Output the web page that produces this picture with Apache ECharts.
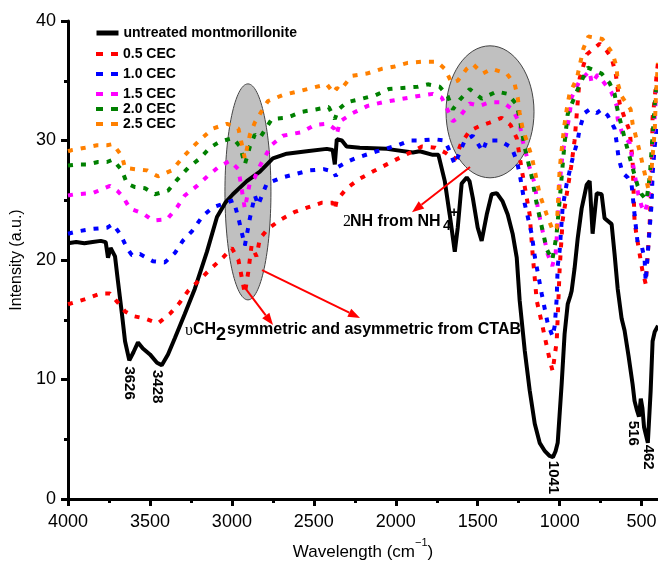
<!DOCTYPE html>
<html>
<head>
<meta charset="utf-8">
<script src="https://cdn.jsdelivr.net/npm/echarts@6/dist/echarts.min.js"></script>
<style>
  html, body { margin: 0; padding: 0; background: #fff; }
  #chart { width: 658px; height: 563px; }
</style>
</head>
<body>
<div id="chart"></div>
<script>
// tick values on the wavenumber axis
const majorTicks = [4000, 3500, 3000, 2500, 2000, 1500, 1000, 500];
const minorTicks = [3750, 3250, 2750, 2250, 1750, 1250, 750];

const seriesNames = ['untreated montmorillonite', '0.5 CEC', '1.0 CEC', '1.5 CEC', '2.0 CEC', '2.5 CEC'];

// [wavenumber, intensity]
const untreated = [[4000,21.4],[3950,21.5],[3900,21.4],[3850,21.5],[3800,21.6],[3770,21.5],[3756,20.2],[3740,21.0],[3713,20.3],[3695,18.2],[3671,15.5],[3652,13.2],[3626,11.6],[3600,12.3],[3573,13.1],[3543,12.6],[3500,12.1],[3457,11.4],[3428,11.2],[3390,12.1],[3347,13.5],[3287,15.5],[3226,17.6],[3152,20.7],[3091,23.6],[3040,24.8],[2994,25.5],[2909,26.6],[2829,27.4],[2750,28.5],[2665,28.9],[2543,29.1],[2421,29.3],[2385,29.2],[2372,28.0],[2360,30.1],[2329,30.0],[2300,29.5],[2220,29.4],[2055,29.3],[1896,29.0],[1854,29.1],[1774,28.8],[1740,28.8],[1701,26.6],[1671,23.8],[1640,20.7],[1622,22.7],[1598,26.4],[1567,26.9],[1550,26.6],[1530,25.2],[1500,22.7],[1476,21.6],[1445,23.8],[1415,25.5],[1384,25.6],[1348,24.9],[1317,23.8],[1287,22.2],[1262,20.2],[1244,16.6],[1213,12.4],[1183,9.1],[1152,6.3],[1122,4.7],[1090,4.0],[1061,3.6],[1041,3.5],[1025,4.0],[1012,4.7],[988,9.6],[970,13.8],[951,16.3],[935,17.0],[927,17.4],[909,19.3],[890,21.8],[866,24.3],[835,26.3],[817,26.6],[799,22.2],[774,25.6],[744,25.5],[726,23.5],[683,23.0],[665,20.5],[646,17.6],[622,15.1],[604,14.1],[580,12.0],[555,9.6],[543,8.2],[530,7.5],[516,6.9],[505,8.4],[495,7.6],[485,6.0],[462,4.7],[445,9.0],[433,13.2],[420,14.0],[408,14.3],[400,14.5]];

const cec05 = [[4000,16.3],[3900,16.7],[3800,17.2],[3744,17.2],[3700,16.5],[3652,15.7],[3600,15.3],[3530,15.1],[3451,14.7],[3378,15.5],[3320,16.4],[3268,17.4],[3200,18.3],[3134,19.2],[3055,20.2],[3000,21.0],[2960,20.0],[2921,17.2],[2900,19.0],[2880,21.2],[2850,20.3],[2829,21.8],[2780,22.6],[2700,23.4],[2620,24.0],[2537,24.4],[2450,24.8],[2384,24.8],[2372,24.2],[2360,25.0],[2299,26.0],[2220,26.8],[2140,27.4],[2055,28.0],[1970,28.6],[1896,29.1],[1841,29.5],[1760,29.4],[1700,29.0],[1670,28.7],[1640,28.4],[1600,29.8],[1549,30.8],[1490,31.2],[1427,31.5],[1354,31.9],[1300,31.3],[1262,30.2],[1232,27.6],[1183,23.8],[1165,20.5],[1140,16.6],[1110,14.8],[1079,12.8],[1060,11.6],[1043,10.7],[1030,12.0],[1018,13.2],[1006,17.2],[1000,19.3],[982,23.3],[957,25.5],[930,27.8],[909,30.0],[878,35.2],[835,37.2],[800,37.6],[756,38.1],[713,37.5],[683,36.9],[658,35.6],[634,33.1],[604,31.9],[573,30.8],[555,28.3],[543,23.2],[530,22.0],[512,20.5],[495,19.1],[475,18.0],[460,21.0],[451,23.0],[439,26.9],[433,31.9],[420,33.5],[408,35.6],[400,36.5]];

const cec10 = [[4000,22.2],[3939,22.4],[3850,22.6],[3762,22.7],[3726,23.0],[3683,22.2],[3640,21.0],[3610,20.4],[3561,20.5],[3482,19.9],[3409,19.8],[3347,20.6],[3300,21.6],[3244,22.4],[3177,23.7],[3116,24.4],[3055,24.7],[2990,25.0],[2960,23.5],[2921,21.2],[2890,23.5],[2860,25.4],[2840,24.6],[2787,26.4],[2695,26.9],[2610,27.2],[2524,27.5],[2440,27.6],[2380,27.4],[2365,27.0],[2350,27.8],[2300,28.2],[2250,28.5],[2116,29.1],[1988,29.6],[1915,30.0],[1854,30.0],[1762,30.1],[1701,30.0],[1671,29.1],[1640,28.0],[1610,29.0],[1579,30.0],[1530,30.4],[1470,29.1],[1445,30.0],[1366,30.0],[1293,29.4],[1262,28.3],[1244,27.2],[1213,24.7],[1171,22.2],[1152,20.3],[1110,17.2],[1073,14.7],[1043,13.6],[1030,14.5],[1018,16.8],[1012,19.5],[1000,20.8],[982,24.4],[957,26.4],[921,28.5],[890,30.0],[878,31.0],[848,32.3],[817,32.6],[774,32.3],[744,32.6],[707,32.1],[665,31.0],[652,29.8],[640,28.5],[616,27.3],[585,26.9],[561,26.3],[543,23.8],[524,21.4],[500,21.2],[482,20.1],[475,18.2],[460,21.0],[439,24.7],[433,27.2],[420,29.5],[408,31.0],[400,31.5]];

const cec15 = [[4000,25.4],[3957,25.5],[3848,25.6],[3744,26.2],[3700,25.8],[3665,25.3],[3622,24.3],[3543,23.9],[3482,23.3],[3396,23.4],[3335,24.4],[3287,25.4],[3213,26.2],[3150,27.0],[3080,27.8],[3012,28.3],[2960,27.6],[2921,24.3],[2890,26.5],[2860,26.9],[2840,27.6],[2760,29.6],[2689,30.4],[2573,30.7],[2494,31.3],[2415,31.4],[2375,31.0],[2360,30.5],[2340,31.6],[2262,32.3],[2171,32.9],[2080,33.2],[1994,33.4],[1872,33.7],[1774,33.9],[1720,33.6],[1689,32.7],[1652,31.6],[1610,32.0],[1549,33.1],[1488,32.9],[1427,33.2],[1348,33.2],[1287,32.6],[1244,31.4],[1226,30.0],[1183,27.7],[1152,26.4],[1134,24.4],[1110,22.8],[1073,20.5],[1045,19.5],[1025,20.5],[1012,23.0],[1000,26.4],[982,28.9],[957,30.8],[939,32.2],[927,33.6],[878,35.0],[817,35.8],[805,34.8],[768,35.5],[738,35.0],[683,34.0],[652,32.9],[646,31.8],[616,30.5],[573,29.8],[543,27.2],[520,25.5],[500,24.5],[480,24.0],[460,25.0],[440,28.0],[420,32.0],[408,34.5],[400,35.0]];

const cec20 = [[4000,27.9],[3939,28.0],[3878,28.0],[3817,28.2],[3762,28.2],[3726,28.4],[3671,27.5],[3640,26.4],[3591,26.1],[3530,26.0],[3469,25.5],[3390,25.8],[3335,26.7],[3268,27.7],[3195,28.5],[3134,29.4],[3073,29.9],[2994,30.2],[2950,29.5],[2921,28.0],[2890,29.5],[2860,30.5],[2830,30.2],[2756,31.8],[2665,31.9],[2573,32.4],[2488,32.6],[2409,32.8],[2372,31.8],[2350,32.6],[2299,33.2],[2207,33.5],[2122,33.8],[2043,34.3],[1957,34.4],[1866,34.5],[1805,34.7],[1732,34.5],[1683,33.7],[1652,32.6],[1610,33.4],[1549,34.3],[1476,33.5],[1384,34.1],[1317,33.9],[1262,33.0],[1244,31.8],[1213,29.4],[1171,27.0],[1140,24.7],[1079,20.9],[1045,20.0],[1020,22.0],[1000,25.0],[982,27.9],[970,29.8],[951,32.2],[896,34.1],[829,36.1],[744,35.6],[695,34.8],[665,33.9],[646,32.5],[600,30.0],[555,27.7],[524,26.2],[500,25.5],[470,25.0],[450,27.0],[430,31.0],[415,34.0],[400,35.0]];

const cec25 = [[4000,29.1],[3976,29.2],[3896,29.4],[3823,29.6],[3762,29.6],[3726,29.7],[3671,28.7],[3652,27.7],[3591,27.6],[3518,27.5],[3451,27.0],[3366,27.5],[3305,28.5],[3244,29.4],[3183,30.2],[3116,31.0],[3030,31.4],[2960,31.0],[2921,28.5],[2890,30.5],[2860,31.5],[2830,32.2],[2780,33.3],[2689,33.8],[2598,34.1],[2512,34.4],[2421,34.7],[2380,34.0],[2360,34.4],[2340,34.2],[2268,35.4],[2177,35.6],[2085,36.0],[2006,36.2],[1927,36.5],[1835,36.6],[1750,36.6],[1701,36.0],[1658,34.8],[1622,35.0],[1567,36.0],[1530,36.4],[1470,35.6],[1415,36.0],[1323,35.6],[1274,34.7],[1256,33.6],[1244,32.3],[1226,31.0],[1171,28.7],[1122,25.5],[1079,23.8],[1040,22.4],[1018,22.7],[1000,27.6],[982,30.0],[970,31.4],[957,32.6],[940,33.9],[895,35.2],[855,37.7],[825,38.7],[740,38.5],[677,37.3],[652,36.1],[646,34.8],[622,33.7],[567,32.6],[555,31.4],[512,29.1],[482,27.3],[460,26.0],[440,27.5],[420,30.8],[414,33.3],[405,35.5],[400,36.5]];

const seriesData = [untreated, cec05, cec10, cec15, cec20, cec25];
const seriesColors = ['#000000', '#ff0000', '#0000ff', '#ff00ff', '#008000', '#ff8000'];
const legendCenters = [28, 49, 69, 89, 104, 119];

const chart = echarts.init(document.getElementById('chart'));
const FONT = 'Liberation Sans, Arial, sans-serif';

const option = {
  animation: false,
  grid: { left: 68, right: 0, top: 21, bottom: 64, containLabel: false, outerBoundsMode: 'none' },
  legend: seriesNames.map((name, i) => ({
    data: [name],
    left: 89,
    top: legendCenters[i] - 7,
    itemWidth: 22,
    itemHeight: 14,
    selectedMode: false,
    itemStyle: { opacity: 0 },
    lineStyle: i === 0 ? { width: 5 } : { type: [7, 8], width: 4 },
    textStyle: { fontSize: 14, fontWeight: 'bold', fontFamily: FONT, color: '#000' }
  })),
  xAxis: [
    {
      type: 'value',
      inverse: true,
      min: 400,
      max: 4000,
      splitLine: { show: false },
      axisLine: { lineStyle: { color: '#000', width: 3 } },
      axisTick: { customValues: majorTicks, length: 7, lineStyle: { width: 3, color: '#000' } },
      axisLabel: { customValues: majorTicks, formatter: (v) => String(v), fontSize: 18, margin: 14, color: '#000', fontFamily: FONT },
      name: '{a|Wavelength (cm}{s|−1}{a|)}',
      nameLocation: 'middle',
      nameGap: 38,
      nameTextStyle: {
        rich: {
          a: { fontSize: 17, fontFamily: FONT, color: '#000', lineHeight: 24, verticalAlign: 'bottom' },
          s: { fontSize: 11, fontFamily: FONT, color: '#000', lineHeight: 12, verticalAlign: 'top' }
        }
      }
    },
    {
      // minor ticks
      type: 'value',
      inverse: true,
      min: 400,
      max: 4000,
      position: 'bottom',
      splitLine: { show: false },
      axisLine: { show: false },
      axisTick: { customValues: minorTicks, length: 4, lineStyle: { width: 3, color: '#000' } },
      axisLabel: { show: false }
    }
  ],
  yAxis: {
    type: 'value',
    min: 0,
    max: 40,
    interval: 10,
    splitLine: { show: false },
    axisLine: { show: true, lineStyle: { color: '#000', width: 3 } },
    axisTick: { show: true, length: 7, lineStyle: { width: 3, color: '#000' } },
    minorTick: { show: true, splitNumber: 2, length: 4, lineStyle: { width: 3, color: '#000' } },
    axisLabel: { fontSize: 18, margin: 12, color: '#000', fontFamily: FONT },
    name: 'Intensity (a.u.)',
    nameLocation: 'middle',
    nameGap: 32,
    nameTextStyle: { fontSize: 16, fontFamily: FONT, color: '#000' }
  },
  series: seriesNames.map((name, i) => ({
    name: name,
    type: 'line',
    data: seriesData[i],
    symbol: 'none',
    color: seriesColors[i],
    lineStyle: i === 0
      ? { color: seriesColors[i], width: 4 }
      : { color: seriesColors[i], width: 4, type: [5, 8] },
    z: i === 0 ? 3 : 4
  }))
};

chart.setOption(option);

// ---- annotations ----
const px = (wn, v) => chart.convertToPixel({ seriesIndex: 0 }, [wn, v]);

function ellipse(wn, v, rx, ry) {
  const p = px(wn, v);
  return {
    type: 'ellipse', z: 1,
    shape: { cx: p[0], cy: p[1], rx: rx, ry: ry },
    style: { fill: '#c0c0c0', stroke: '#444', lineWidth: 1 }
  };
}

function arrow(a, b) {
  const p1 = px(a[0], a[1]);
  const p2 = px(b[0], b[1]);
  const dx = p2[0] - p1[0], dy = p2[1] - p1[1];
  const len = Math.sqrt(dx * dx + dy * dy);
  const ux = dx / len, uy = dy / len;
  const head = 12, half = 4.5;
  const bx = p2[0] - ux * head, by = p2[1] - uy * head;
  return [
    { type: 'line', z: 10, shape: { x1: p1[0], y1: p1[1], x2: bx, y2: by }, style: { stroke: '#ff0000', lineWidth: 2 } },
    { type: 'polygon', z: 10, shape: { points: [[p2[0], p2[1]], [bx - uy * half, by + ux * half], [bx + uy * half, by - ux * half]] }, style: { fill: '#ff0000' } }
  ];
}

function txt(x, y, text, font, align) {
  return { type: 'text', x: x, y: y, z: 10, style: { text: text, font: font, fill: '#000', align: align || 'left', verticalAlign: 'middle' } };
}

function peakLabel(wn, v, text) {
  const p = px(wn, v);
  return {
    type: 'text', x: p[0], y: p[1], z: 10, rotation: -Math.PI / 2,
    style: { text: text, font: 'bold 15px ' + FONT, fill: '#000', align: 'center', verticalAlign: 'middle' }
  };
}

const boldF = 'bold 16px ' + FONT;
const ch2Anchor = px(3286, 14.06);
const nhAnchor = px(2322, 23.18);

const graphics = [
  ellipse(2902, 25.7, 23, 108),
  ellipse(1425, 32.4, 44, 66),
  ...arrow([2920, 17.66], [2749, 14.56]),
  ...arrow([2816, 19.16], [2218, 15.15]),
  ...arrow([1547, 27.78], [1901, 24.0]),
  {
    type: 'group', x: ch2Anchor[0], y: ch2Anchor[1], z: 10,
    children: [
      txt(0, 0, 'υ', '16px Liberation Serif, serif'),
      txt(8, -1, 'CH', boldF),
      txt(31, 4, '2', 'bold 18px ' + FONT),
      txt(42, -1, 'symmetric and asymmetric from CTAB', boldF)
    ]
  },
  {
    type: 'group', x: nhAnchor[0], y: nhAnchor[1], z: 10,
    children: [
      txt(0, 0, '2', '16px Liberation Serif, serif'),
      txt(7, 0, 'NH from NH', boldF),
      txt(100, 4, '4', 'bold 14px ' + FONT),
      txt(107, -9, '+', 'bold 14px ' + FONT)
    ]
  },
  peakLabel(3626, 9.7, '3626'),
  peakLabel(3455, 9.4, '3428'),
  peakLabel(1041, 1.8, '1041'),
  peakLabel(550, 5.5, '516'),
  peakLabel(462, 3.5, '462')
];

chart.setOption({ graphic: graphics });
</script>
</body>
</html>
